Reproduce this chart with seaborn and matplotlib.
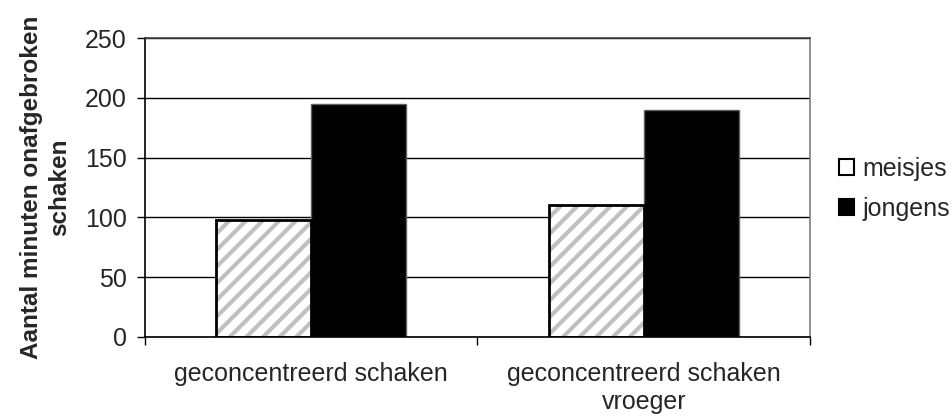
import pandas as pd
import matplotlib.pyplot as plt
import seaborn as sns
from matplotlib.patches import Rectangle

# Data
categories = ['geconcentreerd schaken', 'geconcentreerd schaken\nvroeger']
groups = ['meisjes', 'jongens']
meisjes = [98, 110]
jongens = [195, 190]

df = pd.DataFrame({
    'categorie': categories * 2,
    'groep': [groups[0]] * 2 + [groups[1]] * 2,
    'minuten': meisjes + jongens,
})

sns.set_style('white')
plt.rcParams['font.family'] = ['Liberation Sans', 'DejaVu Sans']
plt.rcParams['hatch.linewidth'] = 3.0

fig = plt.figure(figsize=(9.53, 4.16), dpi=100)
ax = fig.add_axes([145 / 953, 1 - 337 / 416, 665 / 953, 299 / 416])

sns.barplot(data=df, x='categorie', y='minuten', hue='groep', order=categories,
            hue_order=groups, palette=['white', 'black'], width=0.57,
            edgecolor='#606060', linewidth=1.0, ax=ax, legend=True)

# grey diagonal stripes for meisjes: hatch takes the edge colour,
# so draw the black outline as a separate patch on top
for bar in ax.containers[0]:
    bar.set_hatch('//')
    bar.set_edgecolor('#c0c0c0')
    bar.set_linewidth(0)
    ax.add_patch(Rectangle(bar.get_xy(), bar.get_width(), bar.get_height(),
                           fill=False, edgecolor='black', linewidth=2.0, zorder=bar.get_zorder() + 0.1))

ax.set_ylim(0, 250)
ax.set_xlim(-0.5, 1.5)
ax.set_yticks([0, 50, 100, 150, 200, 250])
ax.yaxis.grid(True, color='black', linewidth=1.0)
ax.set_axisbelow(True)

for side, sp in ax.spines.items():
    sp.set_visible(True)
    sp.set_color('#808080')
    sp.set_linewidth(1.2)
ax.spines['left'].set_color('black')
ax.spines['bottom'].set_color('black')
ax.spines['top'].set_color('#404040')

ax.tick_params(axis='y', which='major', direction='out', length=6, width=1,
               color='black', labelsize=18, pad=7, left=True)
ax.tick_params(axis='x', which='major', length=0, labelsize=18, pad=18)
ax.set_xticks([-0.5, 0.5, 1.5], minor=True)
ax.tick_params(axis='x', which='minor', direction='out', length=6, width=1,
               color='black', bottom=True)

ax.set_xlabel('')
ax.set_ylabel('Aantal minuten onafgebroken\nschaken', fontsize=17.5,
              fontweight='bold', labelpad=10, linespacing=1.3)

leg = ax.legend(loc='center left', bbox_to_anchor=(1.044, 0.495), frameon=False,
                fontsize=18, handlelength=0.6, handleheight=0.6,
                handletextpad=0.32, labelspacing=0.65, borderaxespad=0,
                borderpad=0)
for h in leg.legend_handles:
    h.set_linewidth(1.5)
    h.set_edgecolor('black')
    h.set_hatch('')

plt.savefig('out.png', dpi=100)
